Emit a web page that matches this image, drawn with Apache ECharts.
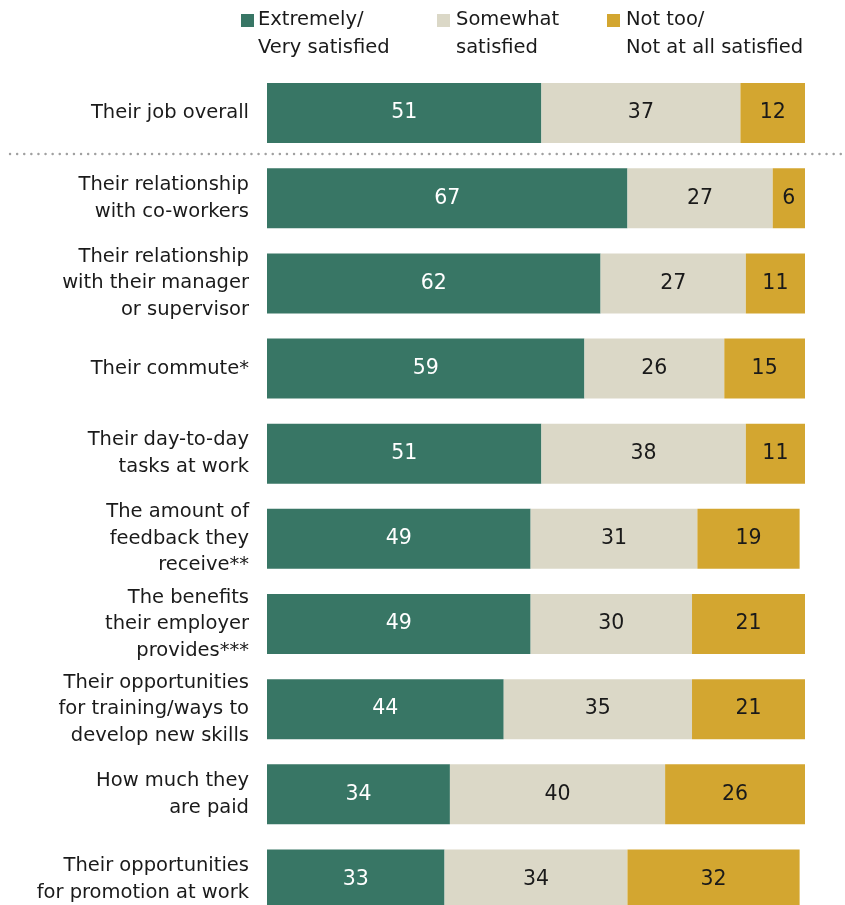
<!DOCTYPE html>
<html>
<head>
<meta charset="utf-8">
<script src="https://cdn.jsdelivr.net/npm/echarts@6/dist/echarts.min.js"></script>
<style>
  html, body { margin: 0; padding: 0; background: #fff; overflow: hidden; }
  /* the last row runs slightly past the bottom edge of the window */
  #chart { width: 845px; height: 922px; }
</style>
</head>
<body>
<div id="chart"></div>
<script>
// Job satisfaction aspects, top to bottom
const categories = [
  'Their job overall',
  'Their relationship\nwith co-workers',
  'Their relationship\nwith their manager\nor supervisor',
  'Their commute*',
  'Their day-to-day\ntasks at work',
  'The amount of\nfeedback they\nreceive**',
  'The benefits\ntheir employer\nprovides***',
  'Their opportunities\nfor training/ways to\ndevelop new skills',
  'How much they\nare paid',
  'Their opportunities\nfor promotion at work'
];
const verySatisfied     = [51, 67, 62, 59, 51, 49, 49, 44, 34, 33];
const somewhatSatisfied = [37, 27, 27, 26, 38, 31, 30, 35, 40, 34];
const notSatisfied      = [12, 6, 11, 15, 11, 19, 21, 21, 26, 32];

const seriesNames = ['Extremely/\nVery satisfied', 'Somewhat\nsatisfied', 'Not too/\nNot at all satisfied'];
const colors = ['#387665', '#DBD8C7', '#D3A630'];
const labelColors = ['#ffffff', '#1a1a1a', '#1a1a1a'];
const FONT = '"DejaVu Sans", "Liberation Sans", sans-serif';

const chart = echarts.init(document.getElementById('chart'));

function makeSeries(name, data, i) {
  return {
    name: name,
    type: 'bar',
    stack: 'total',
    barWidth: 60,
    data: data,
    itemStyle: { color: colors[i] },
    label: {
      show: true,
      position: 'inside',
      color: labelColors[i],
      fontFamily: FONT,
      fontSize: 20.5
    },
    emphasis: { disabled: true }
  };
}

// Legend drawn as squares with two-line captions
const squareX = [241, 437, 607];
const captionX = [258, 456, 626];
const graphics = [];
seriesNames.forEach((n, i) => {
  graphics.push({
    type: 'rect',
    shape: { x: squareX[i], y: 14, width: 13, height: 13 },
    style: { fill: colors[i] },
    silent: true
  });
  graphics.push({
    type: 'text',
    x: captionX[i],
    y: 6,
    style: {
      text: n,
      fontFamily: FONT,
      fontSize: 19.5,
      lineHeight: 28,
      fill: '#1a1a1a'
    },
    silent: true
  });
});
// Dotted separator under the overall row
graphics.push({
  type: 'line',
  shape: { x1: 10, y1: 154, x2: 845, y2: 154 },
  style: { stroke: '#a0a0a0', lineWidth: 2.4, lineDash: [0.1, 7], lineCap: 'round' },
  silent: true
});

chart.setOption({
  animation: false,
  grid: { left: 267, right: 40, top: 70.5, bottom: 0, containLabel: false },
  xAxis: {
    type: 'value', min: 0, max: 100,
    show: false
  },
  yAxis: {
    type: 'category',
    data: categories,
    inverse: true,
    axisLine: { show: false },
    axisTick: { show: false },
    axisLabel: {
      margin: 18,
      fontFamily: FONT,
      fontSize: 19.5,
      lineHeight: 26.5,
      color: '#1a1a1a',
      align: 'right'
    }
  },
  graphic: graphics,
  series: [
    makeSeries(seriesNames[0], verySatisfied, 0),
    makeSeries(seriesNames[1], somewhatSatisfied, 1),
    makeSeries(seriesNames[2], notSatisfied, 2)
  ]
});
</script>
</body>
</html>
